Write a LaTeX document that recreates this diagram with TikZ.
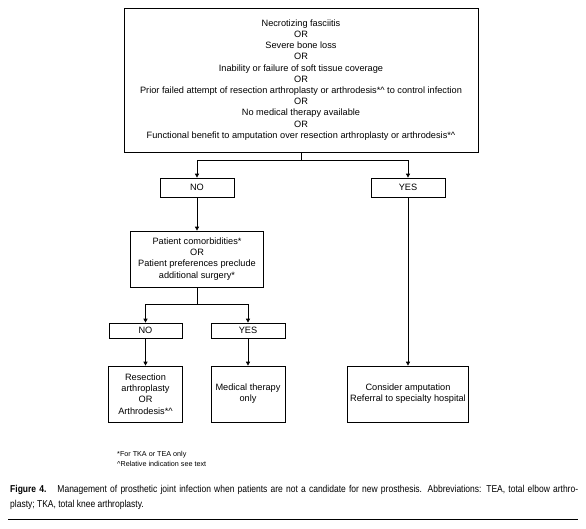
\documentclass[tikz,border=0pt]{standalone}
\usepackage{fontspec}
\setmainfont{Liberation Sans}
\newfontfamily\capfont[FakeStretch=0.85]{Liberation Sans}
\usetikzlibrary{arrows.meta}
\begin{document}
\begin{tikzpicture}[x=1pt,y=-1pt,
  box/.style={draw=black, line width=0.7pt, align=center, inner sep=0pt,
    font=\fontsize{9.2}{11.2}\selectfont},
  arr/.style={-{Triangle[length=4pt,width=4pt]}, line width=0.7pt},
  ln/.style={line width=0.7pt},
  note/.style={anchor=base west, inner sep=0pt, font=\fontsize{7.2}{10}\selectfont},
  captext/.style={anchor=base west, inner sep=0pt, font=\capfont\fontsize{10}{15}\selectfont}]
\useasboundingbox (0,0) rectangle (586,528);
\fill[white] (0,0) rectangle (586,528);

\node[box, minimum width=354pt, minimum height=144pt] (top) at (301,80)
  {Necrotizing fasciitis\\OR\\Severe bone loss\\OR\\Inability or failure of soft tissue coverage\\OR\\Prior failed attempt of resection arthroplasty or arthrodesis*\^{} to control infection\\OR\\No medical therapy available\\OR\\Functional benefit to amputation over resection arthroplasty or arthrodesis*\^{}};

\node[box, minimum width=74pt, minimum height=19pt] (no1) at (197,187.5) {NO};
\node[box, minimum width=74pt, minimum height=19pt] (yes1) at (408,187.5) {YES};
\node[box, minimum width=133pt, minimum height=56pt] (pat) at (197,259)
  {Patient comorbidities*\\OR\\Patient preferences preclude\\additional surgery*};
\node[box, minimum width=73pt, minimum height=15pt] (no2) at (145.5,330.5) {NO};
\node[box, minimum width=74pt, minimum height=15pt] (yes2) at (248,330.5) {YES};
\node[box, minimum width=74pt, minimum height=56pt] (res) at (145.5,394)
  {Resection\\arthroplasty\\OR\\Arthrodesis*\^{}};
\node[box, minimum width=74pt, minimum height=56pt] (med) at (248,394)
  {Medical therapy\\only};
\node[box, minimum width=121pt, minimum height=56pt] (amp) at (408,394)
  {Consider amputation\\Referral to specialty hospital};

\coordinate (j1) at ([yshift=-8pt]top.south);
\draw[ln] (top.south) -- (j1);
\draw[arr] (j1) -| (no1.north);
\draw[arr] (j1) -| (yes1.north);
\draw[arr] (no1.south) -- (pat.north);
\coordinate (j2) at ([yshift=-17pt]pat.south);
\draw[ln] (pat.south) -- (j2);
\draw[arr] (j2) -| (no2.north);
\draw[arr] (j2) -| (yes2.north);
\draw[arr] (no2.south) -- (res.north);
\draw[arr] (yes2.south) -- (med.north);
\draw[arr] (yes1.south) -- (amp.north);

\node[note] (fn1) at (117,456) {*For TKA or TEA only};
\node[note] (fn2) at (117,466) {\^{}Relative indication see text};

\node[captext] (cap1) at (10,492) {\makebox[568pt][s]{\textbf{Figure 4.}\hspace{1.1em}Management of prosthetic joint infection when patients are not a candidate for new prosthesis. Abbreviations: TEA, total elbow arthro-}};
\node[captext] (cap2) at (10,507) {plasty; TKA, total knee arthroplasty.};
\draw[line width=1.1pt] (8,519.5) -- (578,519.5);
\end{tikzpicture}
\end{document}
